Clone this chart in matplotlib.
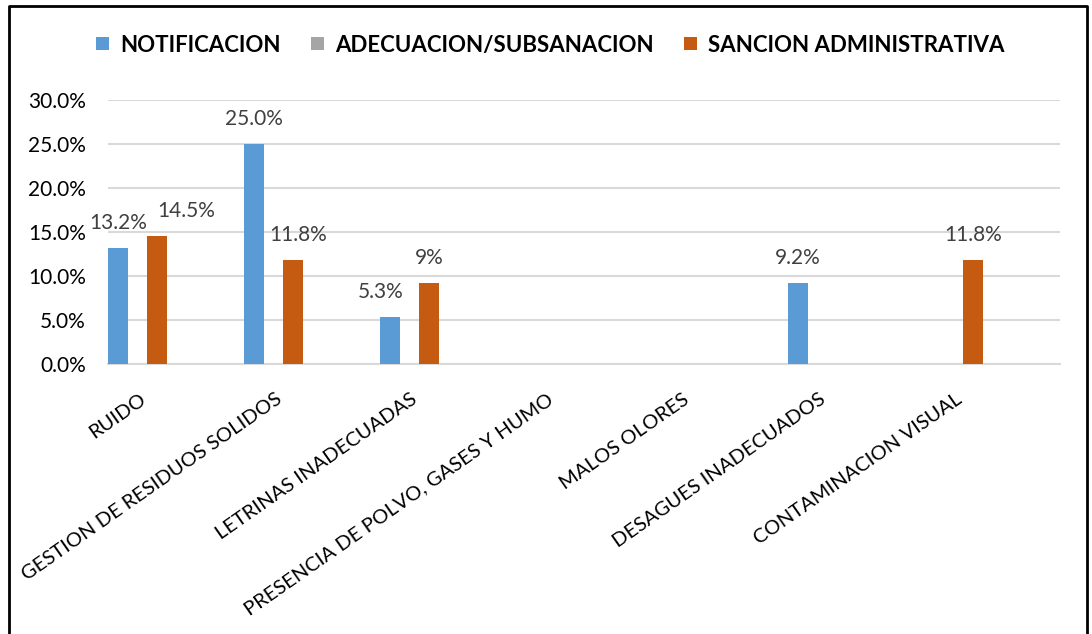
import matplotlib
matplotlib.use("Agg")
import matplotlib.pyplot as plt
import matplotlib.transforms as mtransforms
from matplotlib.lines import Line2D
from matplotlib.ticker import PercentFormatter
import numpy as np

plt.rcParams['font.family'] = ['Lato', 'DejaVu Sans']

# datos del grafico
categorias = ["RUIDO", "GESTION DE RESIDUOS SOLIDOS", "LETRINAS INADECUADAS",
              "PRESENCIA DE POLVO, GASES Y HUMO", "MALOS OLORES",
              "DESAGUES INADECUADOS", "CONTAMINACION VISUAL"]
series = ["NOTIFICACION", "ADECUACION/SUBSANACION", "SANCION ADMINISTRATIVA"]
notificacion = [0.132, 0.250, 0.053, 0.0, 0.0, 0.092, 0.0]
adecuacion = [0.0, 0.0, 0.0, 0.0, 0.0, 0.0, 0.0]
sancion = [0.145, 0.118, 0.092, 0.0, 0.0, 0.0, 0.118]
etiquetas_notif = ["13.2%", "25.0%", "5.3%", "", "", "9.2%", ""]
etiquetas_sancion = ["14.5%", "11.8%", "9%", "", "", "", "11.8%"]

colores = ["#5B9BD5", "#A5A5A5", "#C55A11"]

fig = plt.figure(figsize=(10.92, 6.34), dpi=100)
ax = fig.add_axes([0.0989, 0.4259, 0.8718, 0.4164])

x = np.arange(len(categorias))
w = 1 / 7
valores = [notificacion, adecuacion, sancion]
barras = []
for j, (vals, nombre, col) in enumerate(zip(valores, series, colores)):
    b = ax.bar(x + (j - 1) * w, vals, width=w, color=col, label=nombre, zorder=3)
    barras.append(b)

# etiquetas de datos (algunas desplazadas como en Excel)
desplaz = {(2, 0): 21, (0, 2): -7, (2, 1): 3.5}
for j, etiquetas in [(0, etiquetas_notif), (2, etiquetas_sancion)]:
    for i, (rect, txt) in enumerate(zip(barras[j], etiquetas)):
        if not txt:
            continue
        dx = desplaz.get((j, i), 0)
        ax.annotate(txt, (rect.get_x() + rect.get_width() / 2, rect.get_height()),
                    xytext=(dx, 11), textcoords="offset points",
                    ha="center", va="bottom", fontsize=15, color="#404040")

ax.set_xlim(-0.216, 6.784)
ax.set_ylim(0, 0.30)
ax.set_yticks(np.arange(0, 0.301, 0.05))
ax.yaxis.set_major_formatter(PercentFormatter(1, decimals=1))
ax.grid(axis="y", color="#D9D9D9", linewidth=1.5, zorder=0)
for s in ["top", "right", "left"]:
    ax.spines[s].set_visible(False)
ax.spines["bottom"].set_color("#D9D9D9")
ax.spines["bottom"].set_linewidth(1.5)
ax.tick_params(axis="both", length=0, labelsize=15, colors="black")
ax.tick_params(axis="y", pad=16)
ax.tick_params(axis="x", pad=19, labelsize=14.5)

ax.set_xticks(x)
ax.set_xticklabels(categorias, rotation=35, ha="right", rotation_mode="anchor")
offset = mtransforms.ScaledTranslation(1 / 72, 0, fig.dpi_scale_trans)
for lab in ax.get_xticklabels():
    lab.set_transform(lab.get_transform() + offset)
    lab.set_va("top")

leg = fig.legend(loc="center", bbox_to_anchor=(0.504, 0.929), ncol=3, frameon=False,
                 prop={"weight": "bold", "size": 16}, handlelength=0.55,
                 handleheight=0.55, handletextpad=0.5, columnspacing=1.4)

# marco del grafico
fig.add_artist(Line2D([0.0078, 0.0078, 0.9955, 0.9955], [0.0, 0.9905, 0.9905, 0.0],
                      transform=fig.transFigure, color="black", linewidth=2))

fig.savefig("out.png", dpi=100)
